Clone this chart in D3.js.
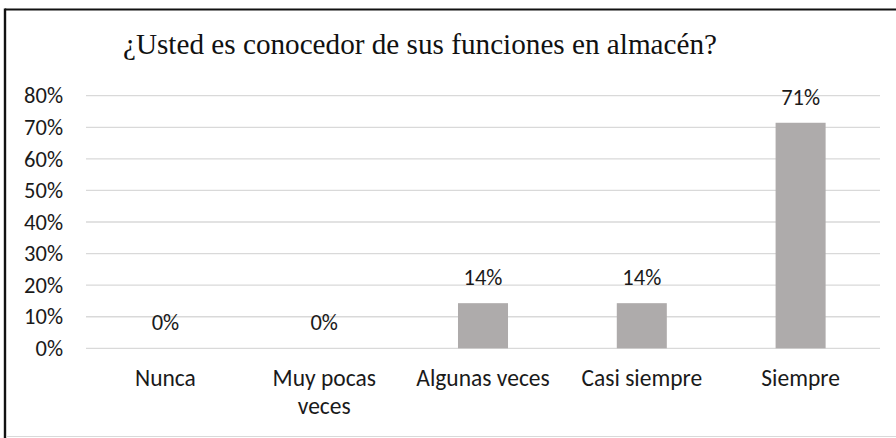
<!DOCTYPE html>
<html>
<head>
<meta charset="utf-8">
<script src="https://cdn.jsdelivr.net/npm/d3@7"></script>
<style>
  body { margin: 0; background: #fff; }
  svg { display: block; }
</style>
</head>
<body>
<svg id="chart" width="896" height="438"></svg>
<script>
// chart data
const title = "¿Usted es conocedor de sus funciones en almacén?";
const categories = ["Nunca", "Muy pocas veces", "Algunas veces", "Casi siempre", "Siempre"];
const values = [0, 0, 14.29, 14.29, 71.43];
const valueLabels = ["0%", "0%", "14%", "14%", "71%"];
const yTicks = [0, 10, 20, 30, 40, 50, 60, 70, 80];

const labelFont = "Carlito, Lato, 'Open Sans', sans-serif";

const svg = d3.select("#chart");

// frame: black on top / left, light gray at the bottom
svg.append("line")
  .attr("x1", 5).attr("y1", 9.5).attr("x2", 896).attr("y2", 9.5)
  .attr("stroke", "#111").attr("stroke-width", 2);
svg.append("line")
  .attr("x1", 5).attr("y1", 8.5).attr("x2", 5).attr("y2", 438)
  .attr("stroke", "#111").attr("stroke-width", 2.4);
svg.append("line")
  .attr("x1", 6).attr("y1", 436.5).attr("x2", 896).attr("y2", 436.5)
  .attr("stroke", "#d9d9d9").attr("stroke-width", 1);

// scales
const x = d3.scaleBand()
  .domain(categories)
  .range([86, 880])
  .paddingInner(0.685)
  .paddingOuter(0.3425);

const y = d3.scaleLinear()
  .domain([0, 80])
  .range([348.3, 95.7]);

// title
svg.append("text")
  .attr("x", 420)
  .attr("y", 54)
  .attr("text-anchor", "middle")
  .attr("font-family", "'Liberation Serif', 'Times New Roman', serif")
  .attr("font-size", 29.2)
  .attr("fill", "#111")
  .text(title);

// gridlines
svg.append("g")
  .selectAll("line")
  .data(yTicks)
  .join("line")
  .attr("x1", 86)
  .attr("x2", 880)
  .attr("y1", (d) => y(d))
  .attr("y2", (d) => y(d))
  .attr("stroke", "#d9d9d9")
  .attr("stroke-width", 1.3);

// y axis labels (no axis line)
const yAxis = svg.append("g")
  .attr("transform", "translate(63,0)")
  .call(d3.axisLeft(y).tickValues(yTicks).tickSize(0).tickPadding(0).tickFormat((d) => d + "%"));
yAxis.select(".domain").remove();
yAxis.selectAll("text")
  .attr("font-family", labelFont)
  .attr("font-size", 22.5)
  .attr("fill", "#1a1a1a");

// bars
svg.append("g")
  .selectAll("rect")
  .data(values)
  .join("rect")
  .attr("x", (d, i) => x(categories[i]))
  .attr("y", (d) => y(d))
  .attr("width", x.bandwidth())
  .attr("height", (d) => y(0) - y(d))
  .attr("fill", "#aeabab");

// value labels
svg.append("g")
  .selectAll("text")
  .data(values)
  .join("text")
  .attr("x", (d, i) => x(categories[i]) + x.bandwidth() / 2)
  .attr("y", (d) => y(d) - 18)
  .attr("text-anchor", "middle")
  .attr("font-family", labelFont)
  .attr("font-size", 22.5)
  .attr("fill", "#1a1a1a")
  .text((d, i) => valueLabels[i]);

// category labels, wrapped when wider than a band step
const xAxis = svg.append("g")
  .attr("transform", "translate(0," + y(0) + ")")
  .call(d3.axisBottom(x).tickSize(0).tickPadding(0));
xAxis.select(".domain").remove();
xAxis.selectAll("text")
  .attr("font-family", labelFont)
  .attr("font-size", 23.5)
  .attr("fill", "#1a1a1a")
  .attr("dy", null)
  .attr("y", 38)
  .each(function (d) {
    const t = d3.select(this);
    const words = d.split(" ");
    t.text(null);
    let line = [];
    let tspan = t.append("tspan").attr("x", 0).attr("y", 38);
    let lineNo = 0;
    words.forEach((w) => {
      line.push(w);
      tspan.text(line.join(" "));
      if (tspan.node().getComputedTextLength() > x.step() - 10 && line.length > 1) {
        line.pop();
        tspan.text(line.join(" "));
        line = [w];
        lineNo++;
        tspan = t.append("tspan").attr("x", 0).attr("y", 38 + lineNo * 28).text(w);
      }
    });
  });
</script>
</body>
</html>
